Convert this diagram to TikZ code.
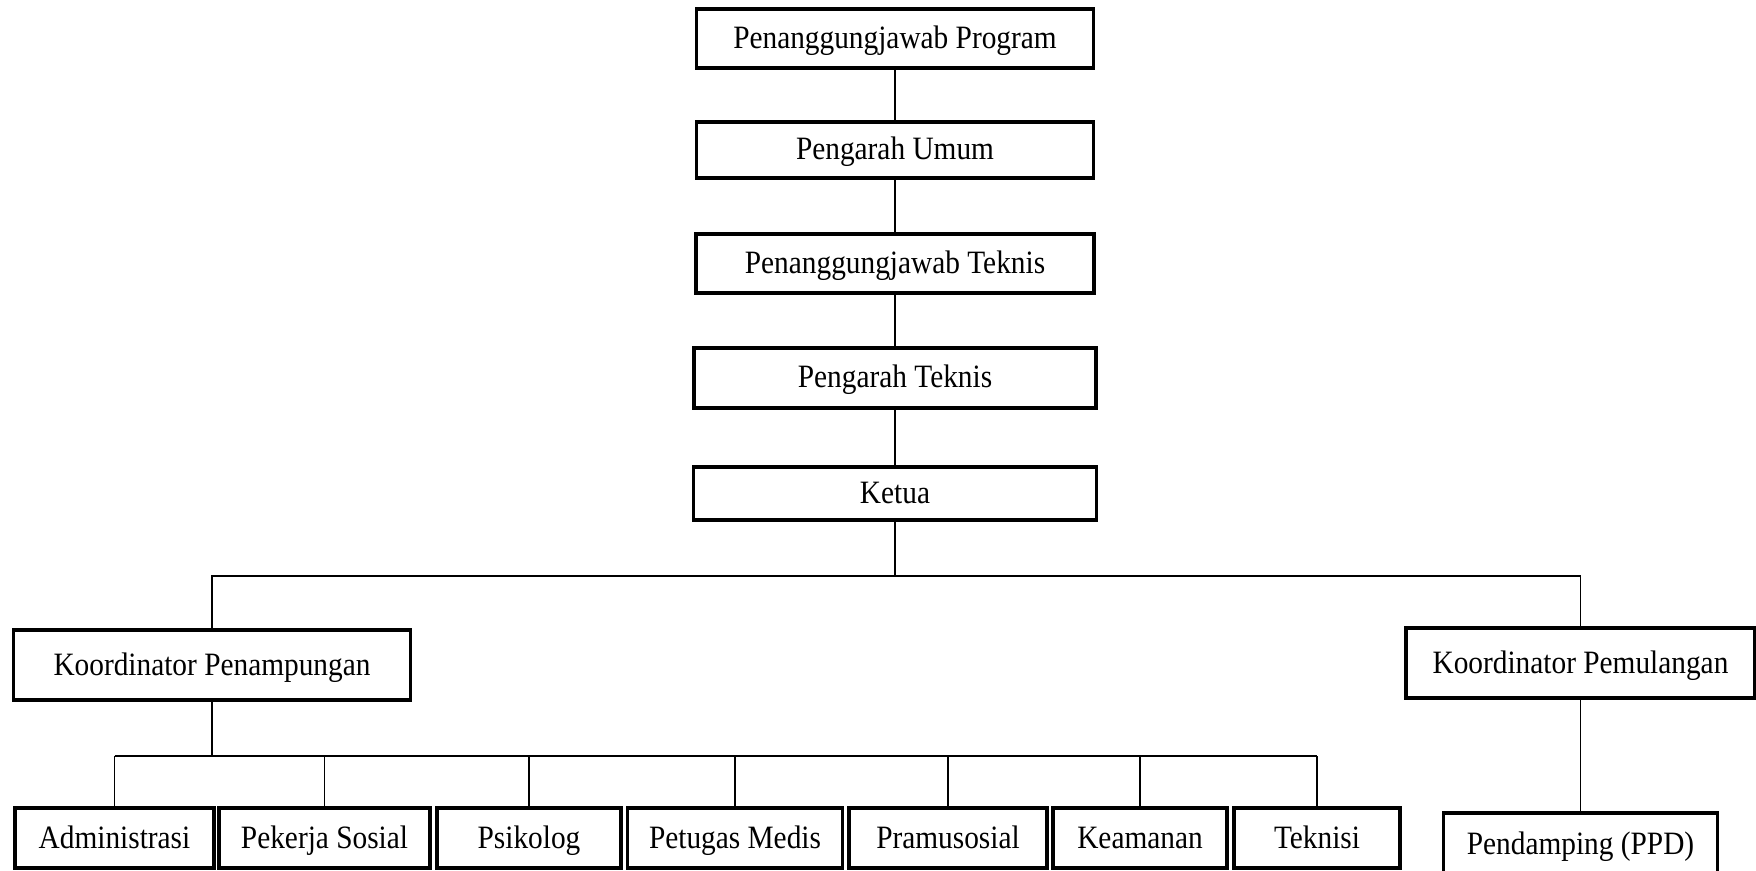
\documentclass[tikz,border=0pt]{standalone}
\usepackage{fontspec}
\setmainfont{Liberation Serif}[FakeStretch=0.9]
\usetikzlibrary{positioning,calc}
\tikzset{
  unit/.style={rectangle,draw=black,line width=1.6pt,fill=white,align=center,inner sep=0pt,minimum height=30pt,text height=11.5pt,text depth=1.5pt,font=\fontsize{16.3}{19}\selectfont},
  link/.style={draw=black,line width=0.7pt}
}

\begin{document}
\begin{tikzpicture}[x=0.5pt,y=-0.5pt]
        \useasboundingbox (0,0) rectangle (1756,871);
        \node[unit,minimum width=198.5pt,minimum height=29.5pt] (prog) at (895,38.5) {Penanggungjawab Program};
        \node[unit,minimum width=198.5pt,minimum height=28pt] (umum) at (895,150) {Pengarah Umum};
        \node[unit,minimum width=199pt,minimum height=29.5pt] (pjteknis) at (895,263.5) {Penanggungjawab Teknis};
        \node[unit,minimum width=201pt,minimum height=30pt] (arteknis) at (895,378) {Pengarah Teknis};
        \node[unit,minimum width=201.5pt,minimum height=26.5pt] (ketua) at (895,493.5) {Ketua};
        \node[unit,minimum width=198.5pt,minimum height=35pt] (kpn) at (212,665) {Koordinator Penampungan};
        \node[unit,minimum width=174.5pt,minimum height=35pt] (kpl) at (1580.5,663) {Koordinator Pemulangan};
        \node[unit,minimum width=99.5pt] (admin) at (114.5,838) {Administrasi};
        \node[unit,minimum width=105.5pt] (peksos) at (324.5,838) {Pekerja Sosial};
        \node[unit,minimum width=92pt] (psikolog) at (529,838) {Psikolog};
        \node[unit,minimum width=107.5pt] (medis) at (735,838) {Petugas Medis};
        \node[unit,minimum width=99pt] (pramu) at (948,838) {Pramusosial};
        \node[unit,minimum width=87pt] (aman) at (1140,838) {Keamanan};
        \node[unit,minimum width=83pt] (teknisi) at (1317,838) {Teknisi};
        \node[unit,minimum width=137pt,minimum height=31pt] (ppd) at (1580.5,844) {Pendamping (PPD)};
        \coordinate (busA) at (895,576);
        \coordinate (busB) at (212,756);
        \draw[link] (prog.south) -- (umum.north);
        \draw[link] (umum.south) -- (pjteknis.north);
        \draw[link] (pjteknis.south) -- (arteknis.north);
        \draw[link] (arteknis.south) -- (ketua.north);
        \draw[link] (ketua.south) -- (busA);
        \draw[link] (kpn.north) |- (busA) -| (kpl.north);
        \draw[link] (kpn.south) -- (busB);
        \draw[link] (admin.north |- busB) -- (teknisi.north |- busB);
        \foreach \n in {admin,peksos,psikolog,medis,pramu,aman,teknisi}
          \draw[link] (\n.north) -- (\n.north |- busB);
        \draw[link] (kpl.south) -- (ppd.north);
      \end{tikzpicture}
\end{document}
